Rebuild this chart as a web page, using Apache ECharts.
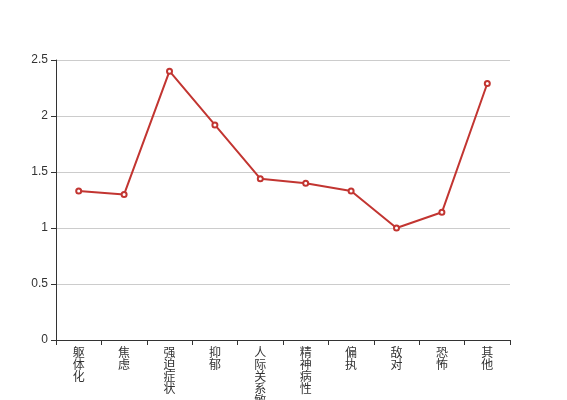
<!DOCTYPE html>
<html>
<head>
<meta charset="utf-8">
<script src="https://cdn.jsdelivr.net/npm/echarts@6/dist/echarts.min.js"></script>
<style>
  html, body { margin: 0; padding: 0; background: #fff; }
  #chart { width: 567px; height: 400px; }
</style>
</head>
<body>
<div id="chart"></div>
<script>
// 因子名称
const categories = ['躯体化', '焦虑', '强迫症状', '抑郁', '人际关系敏感', '精神病性', '偏执', '敌对', '恐怖', '其他']
// 因子均分
const scores = [1.33, 1.30, 2.40, 1.92, 1.44, 1.40, 1.33, 1.00, 1.14, 2.29]
const yTicks = [0, 0.5, 1, 1.5, 2, 2.5]

const chart = echarts.init(document.getElementById('chart'))
chart.setOption({
  animation: false,
  textStyle: { fontFamily: '"Liberation Sans", "Noto Sans CJK SC", sans-serif' },
  grid: { left: 56, right: 57, top: 60, bottom: 60, containLabel: false, outerBoundsMode: 'none' },
  xAxis: {
    type: 'category',
    data: categories,
    boundaryGap: true,
    axisLine: { lineStyle: { color: '#333' } },
    axisTick: { show: true, alignWithLabel: false, lineStyle: { color: '#333' } },
    axisLabel: {
      color: '#333',
      fontSize: 12,
      lineHeight: 12,
      margin: 8,
      interval: 0,
      formatter: v => v.split('').join('\n')
    }
  },
  yAxis: {
    type: 'value',
    min: yTicks[0],
    max: yTicks[yTicks.length - 1],
    interval: 0.5,
    axisLine: { show: true, lineStyle: { color: '#333' } },
    axisTick: { show: true, lineStyle: { color: '#333' } },
    axisLabel: { color: '#333', fontSize: 12 },
    splitLine: { lineStyle: { color: '#ccc' } }
  },
  series: [{
    type: 'line',
    data: scores,
    symbol: 'emptyCircle',
    symbolSize: 5,
    lineStyle: { color: '#c23531', width: 2 },
    itemStyle: { color: '#c23531', borderWidth: 1 }
  }]
})
</script>
</body>
</html>
